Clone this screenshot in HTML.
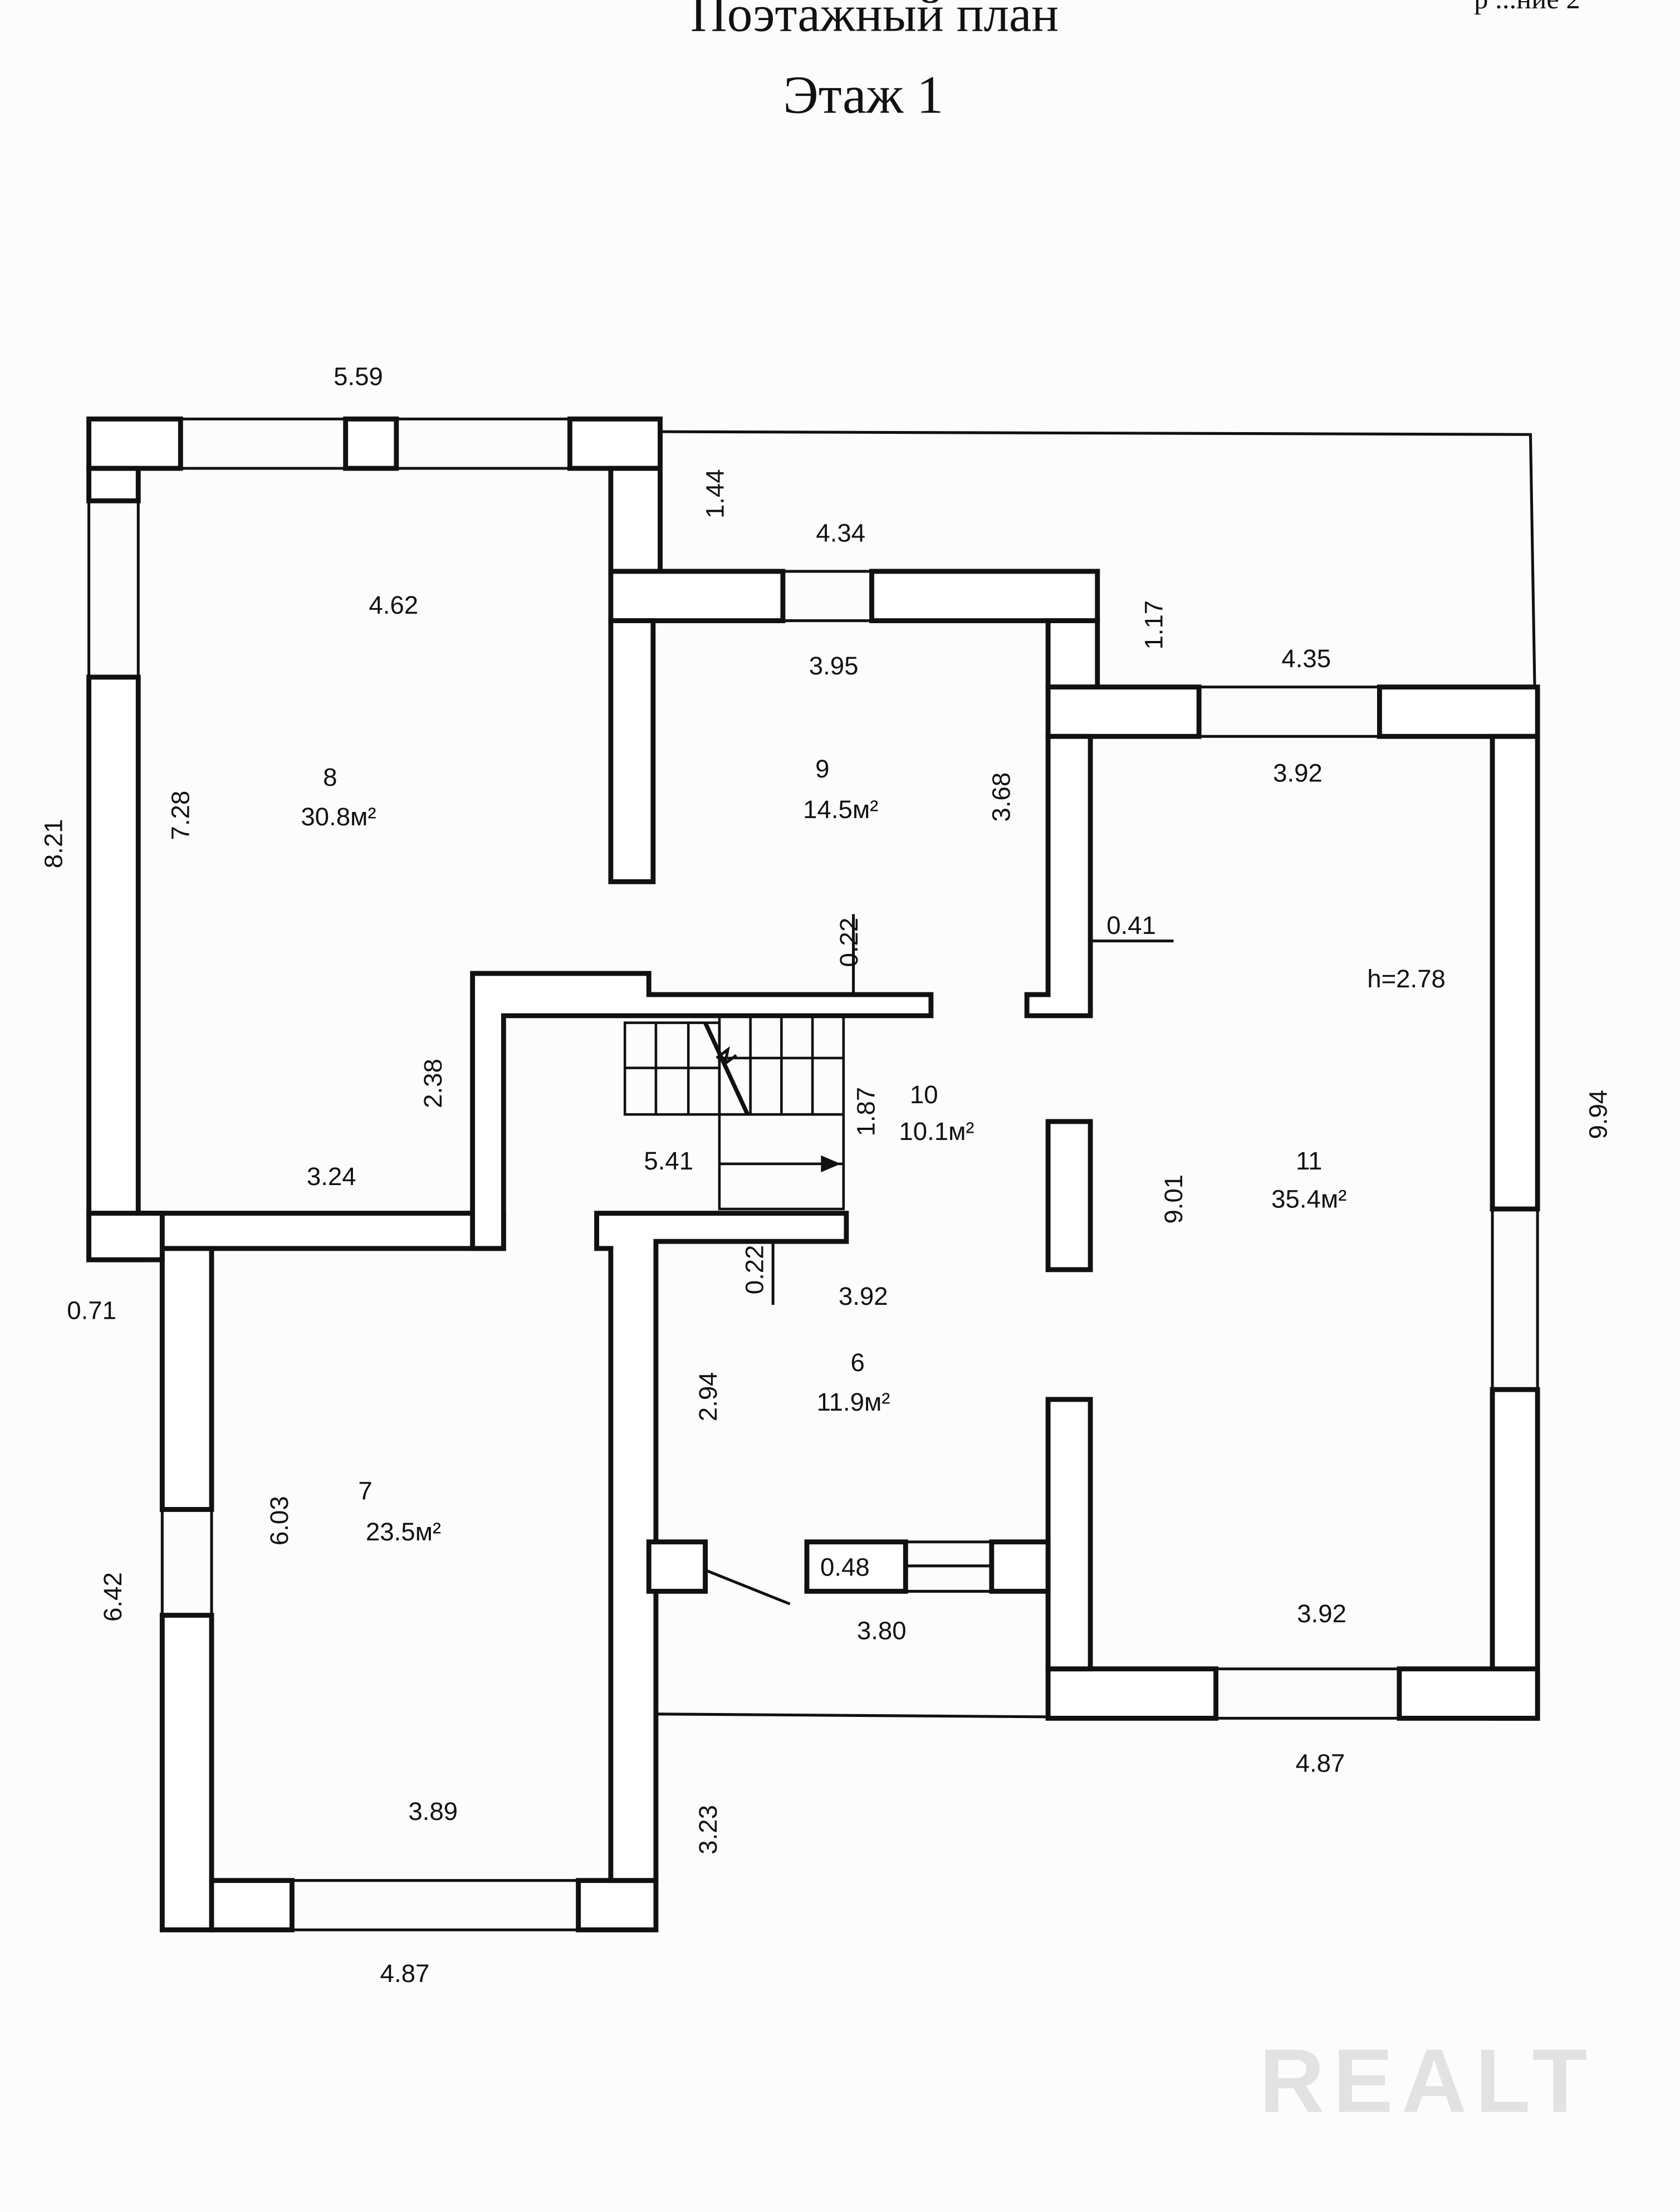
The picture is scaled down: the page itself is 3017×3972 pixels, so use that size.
<!DOCTYPE html>
<html><head><meta charset="utf-8"><style>
html,body{margin:0;padding:0;background:#fff;}
svg{display:block;}
text{font-family:"Liberation Sans",sans-serif;font-size:18px;fill:#111;}
</style></head><body>
<svg width="3017" height="3972" viewBox="0 0 1191 1568" preserveAspectRatio="none" xmlns="http://www.w3.org/2000/svg">
<rect width="1191" height="1568" fill="#fcfcfd"/>
<text x="620" y="22" text-anchor="middle" style="font-family:'Liberation Serif',serif;font-size:36px">Поэтажный план</text>
<text x="612" y="80" text-anchor="middle" style="font-family:'Liberation Serif',serif;font-size:38px">Этаж 1</text>
<text x="1045" y="6" style="font-family:'Liberation Serif',serif;font-size:20px">р ...ние 2</text>

<g fill="none" stroke="#111" stroke-width="2">
<!-- thin outline -->
<polyline points="468,306 1085,308 1088,487"/>
<line x1="465" y1="1215" x2="743" y2="1217"/>
<!-- window lines -->
<line x1="128" y1="297" x2="404" y2="297"/><line x1="128" y1="332" x2="404" y2="332"/>
<line x1="63" y1="355" x2="63" y2="480"/><line x1="98" y1="355" x2="98" y2="480"/>
<line x1="115" y1="1070" x2="115" y2="1145"/><line x1="150" y1="1070" x2="150" y2="1145"/>
<line x1="207" y1="1333" x2="410" y2="1333"/><line x1="207" y1="1368" x2="410" y2="1368"/>
<line x1="555" y1="405" x2="618" y2="405"/><line x1="555" y1="440" x2="618" y2="440"/>
<line x1="850" y1="487" x2="978" y2="487"/><line x1="850" y1="522" x2="978" y2="522"/>
<line x1="1058" y1="857" x2="1058" y2="985"/><line x1="1090" y1="857" x2="1090" y2="985"/>
<line x1="862" y1="1183" x2="992" y2="1183"/><line x1="862" y1="1218" x2="992" y2="1218"/>
<line x1="642" y1="1093" x2="703" y2="1093"/><line x1="642" y1="1110" x2="703" y2="1110"/><line x1="642" y1="1128" x2="703" y2="1128"/>
<line x1="463" y1="880" x2="463" y2="1093"/>
<!-- door -->
<line x1="500" y1="1113" x2="560" y2="1137"/>
<!-- dimension ticks -->
<line x1="605" y1="648" x2="605" y2="705"/>
<line x1="773" y1="667" x2="832" y2="667"/>
<line x1="548" y1="880" x2="548" y2="925"/>
</g>

<g fill="#fff" stroke="#111" stroke-width="3.5">
<!-- room 8 -->
<rect x="63" y="297" width="65" height="35"/>
<rect x="245" y="297" width="36" height="35"/>
<rect x="404" y="297" width="64" height="35"/>
<polygon points="63,332 98,332 98,355 63,355"/>
<rect x="63" y="480" width="35" height="413"/>
<rect x="98" y="860" width="259" height="25"/>
<rect x="433" y="332" width="35" height="73"/>
<polygon points="335,690 460,690 460,705 660,705 660,720 357,720 357,885 335,885"/>
<!-- room 7 -->
<rect x="115" y="885" width="35" height="185"/>
<rect x="115" y="1145" width="35" height="223"/>
<rect x="63" y="860" width="52" height="33"/>
<rect x="150" y="1333" width="57" height="35"/>
<rect x="410" y="1333" width="55" height="35"/>
<polygon points="423,860 600,860 600,880 465,880 465,1333 433,1333 433,885 423,885"/>
<!-- room 9 -->
<rect x="433" y="405" width="122" height="35"/>
<rect x="618" y="405" width="160" height="35"/>
<rect x="433" y="440" width="30" height="185"/>
<rect x="743" y="440" width="35" height="47"/>
<!-- room 11 -->
<rect x="743" y="487" width="107" height="35"/>
<rect x="978" y="487" width="112" height="35"/>
<polygon points="743,522 773,522 773,720 728,720 728,705 743,705"/>
<rect x="1058" y="522" width="32" height="335"/>
<rect x="1058" y="985" width="32" height="233"/>
<rect x="743" y="1183" width="119" height="35"/>
<rect x="992" y="1183" width="98" height="35"/>
<rect x="743" y="992" width="30" height="191"/>
<rect x="743" y="795" width="30" height="105"/>
<!-- room 6 bottom -->
<rect x="460" y="1093" width="40" height="35"/>
<rect x="572" y="1093" width="70" height="35"/>
<rect x="703" y="1093" width="40" height="35"/>
</g>

<!-- stairs -->
<g fill="none" stroke="#111" stroke-width="1.8">
<rect x="443" y="725" width="67" height="65"/>
<rect x="510" y="720" width="88" height="137"/>
<line x1="443" y1="757" x2="510" y2="757"/>
<line x1="465" y1="725" x2="465" y2="790"/><line x1="488" y1="725" x2="488" y2="790"/>
<line x1="532" y1="720" x2="532" y2="790"/><line x1="554" y1="720" x2="554" y2="790"/><line x1="576" y1="720" x2="576" y2="790"/>
<line x1="510" y1="750" x2="598" y2="750"/><line x1="510" y1="790" x2="598" y2="790"/>
<line x1="510" y1="825" x2="598" y2="825"/>
<line x1="500" y1="725" x2="530" y2="790" stroke-width="3"/>
<path d="M508,750 l8,-6 l-2,10 l8,-6" stroke-width="2"/>
<line x1="510" y1="825" x2="590" y2="825"/>
</g>
<polygon points="596,825 582,819 582,831" fill="#111"/>

<!-- labels -->
<g text-anchor="middle">
<text x="254" y="273">5.59</text>
<text x="596" y="384">4.34</text>
<text x="926" y="473">4.35</text>
<text x="279" y="435">4.62</text>
<text x="591" y="478">3.95</text>
<text x="920" y="554">3.92</text>
<text x="234" y="557">8</text><text x="240" y="585">30.8м²</text>
<text x="583" y="551">9</text><text x="596" y="580">14.5м²</text>
<text x="997" y="700">h=2.78</text>
<text x="802" y="662">0.41</text>
<text x="655" y="782">10</text><text x="664" y="808">10.1м²</text>
<text x="474" y="829">5.41</text>
<text x="235" y="840">3.24</text>
<text x="928" y="829">11</text><text x="928" y="856">35.4м²</text>
<text x="612" y="925">3.92</text>
<text x="608" y="972">6</text><text x="605" y="1000">11.9м²</text>
<text x="65" y="935">0.71</text>
<text x="259" y="1063">7</text><text x="286" y="1092">23.5м²</text>
<text x="599" y="1117">0.48</text>
<text x="625" y="1162">3.80</text>
<text x="937" y="1150">3.92</text>
<text x="936" y="1256">4.87</text>
<text x="307" y="1290">3.89</text>
<text x="287" y="1405">4.87</text>
</g>
<g text-anchor="middle">
<text transform="translate(513,350) rotate(-90)">1.44</text>
<text transform="translate(824,443) rotate(-90)">1.17</text>
<text transform="translate(44,598) rotate(-90)">8.21</text>
<text transform="translate(134,578) rotate(-90)">7.28</text>
<text transform="translate(716,565) rotate(-90)">3.68</text>
<text transform="translate(608,668) rotate(-90)">0.22</text>
<text transform="translate(313,768) rotate(-90)">2.38</text>
<text transform="translate(620,788) rotate(-90)">1.87</text>
<text transform="translate(838,850) rotate(-90)">9.01</text>
<text transform="translate(1139,790) rotate(-90)">9.94</text>
<text transform="translate(541,900) rotate(-90)">0.22</text>
<text transform="translate(508,990) rotate(-90)">2.94</text>
<text transform="translate(204,1078) rotate(-90)">6.03</text>
<text transform="translate(86,1132) rotate(-90)">6.42</text>
<text transform="translate(508,1297) rotate(-90)">3.23</text>
</g>
<text x="1012" y="1497" text-anchor="middle" style="font-size:64px;fill:#e2e2e4;font-weight:bold;letter-spacing:6px">REALT</text>
</svg>
</body></html>
